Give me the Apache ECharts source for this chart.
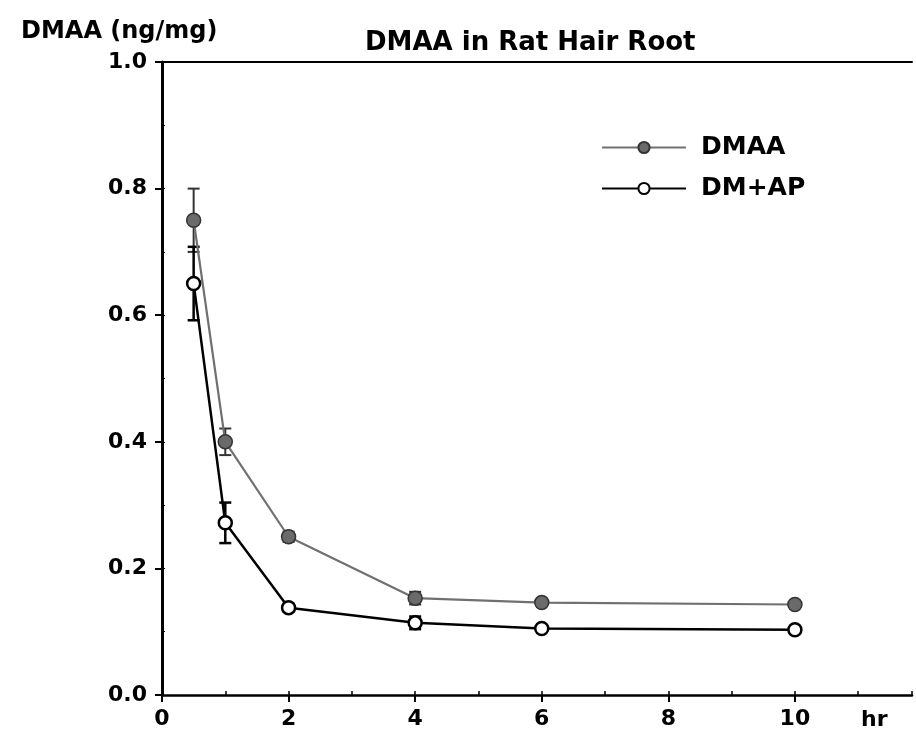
<!DOCTYPE html>
<html>
<head>
<meta charset="utf-8">
<script src="https://cdn.jsdelivr.net/npm/echarts@6/dist/echarts.min.js"></script>
<style>html,body{margin:0;padding:0;background:#fff;}#c{width:916px;height:738px;}</style>
</head>
<body>
<div id="c"></div>
<script>
// Data
const hours = [0.5, 1, 2, 4, 6, 10];
const dmaaValues = [0.75, 0.40, 0.25, 0.153, 0.146, 0.143];
const dmaaErrors = [0.05, 0.021, 0.008, 0.01, 0.005, 0.004];
const dmapValues = [0.65, 0.272, 0.138, 0.114, 0.105, 0.103];
const dmapErrors = [0.058, 0.032, 0.006, 0.01, 0.004, 0.004];
const seriesNames = ['DMAA', 'DM+AP'];
const chartTitle = 'DMAA in Rat Hair Root';
const yTitle = 'DMAA (ng/mg)';
const xTitle = 'hr';

const FONT = 'DejaVu Sans';
const chart = echarts.init(document.getElementById('c'));

function errData(vals, errs) {
  return hours.map((h, i) => [h, vals[i] - errs[i], vals[i] + errs[i]]);
}
function errRender(color, width) {
  return function (params, api) {
    const x = api.value(0);
    const lo = api.coord([x, api.value(1)]);
    const hi = api.coord([x, api.value(2)]);
    const cap = 6;
    const style = { stroke: color, lineWidth: width };
    return {
      type: 'group',
      children: [
        { type: 'line', shape: { x1: lo[0], y1: lo[1], x2: hi[0], y2: hi[1] }, style: style },
        { type: 'line', shape: { x1: lo[0] - cap, y1: lo[1], x2: lo[0] + cap, y2: lo[1] }, style: style },
        { type: 'line', shape: { x1: hi[0] - cap, y1: hi[1], x2: hi[0] + cap, y2: hi[1] }, style: style }
      ]
    };
  };
}

const labelStyle = { fontFamily: FONT, fontWeight: 'bold', fontSize: 22, color: '#000' };

chart.setOption({
  animation: false,
  backgroundColor: '#fff',
  title: [
    { text: chartTitle, left: 360, top: 25, textStyle: { fontFamily: FONT, fontWeight: 'bold', fontSize: 26, color: '#000' } },
    { text: yTitle, left: 16, top: 15, textStyle: { fontFamily: FONT, fontWeight: 'bold', fontSize: 24, color: '#000' } },
    { text: xTitle, left: 856, top: 704, textStyle: { fontFamily: FONT, fontWeight: 'bold', fontSize: 22, color: '#000' } }
  ],
  grid: { left: 162, right: 4, top: 62, bottom: 43, containLabel: false },
  legend: {
    orient: 'vertical', left: 596, top: 130, itemWidth: 84, itemHeight: 14, itemGap: 16,
    data: seriesNames,
    textStyle: { fontFamily: FONT, fontWeight: 'bold', fontSize: 25, color: '#000', padding: [0, 0, 0, 10] }
  },
  xAxis: [
    {
      type: 'value', min: 0, max: 11.85, interval: 2, position: 'bottom',
      axisLine: { show: true, lineStyle: { color: '#000', width: 2.5 } },
      axisTick: { show: true, length: 7, lineStyle: { color: '#000', width: 2 } },
      axisLabel: Object.assign({ margin: 13, showMaxLabel: false, formatter: v => (v <= 10 && v % 2 === 0) ? String(v) : '' }, labelStyle),
      splitLine: { show: false }
    },
    {
      type: 'value', min: 0, max: 11.85, interval: 1, position: 'bottom',
      axisLine: { show: false },
      axisTick: { show: true, inside: true, length: 4, lineStyle: { color: '#000', width: 1.5 } },
      axisLabel: { show: false }, splitLine: { show: false }
    },
    {
      type: 'value', min: 0, max: 11.85, position: 'top',
      axisLine: { show: true, lineStyle: { color: '#000', width: 2 } },
      axisTick: { show: false }, axisLabel: { show: false }, splitLine: { show: false }
    }
  ],
  yAxis: [
    {
      type: 'value', min: 0, max: 1, interval: 0.2, position: 'left',
      axisLine: { show: true, lineStyle: { color: '#000', width: 3 } },
      axisTick: { show: true, length: 7, lineStyle: { color: '#000', width: 2 } },
      axisLabel: Object.assign({ margin: 15, formatter: v => v.toFixed(1) }, labelStyle),
      splitLine: { show: false }
    },
    {
      type: 'value', min: 0, max: 1, interval: 0.1, position: 'left',
      axisLine: { show: false },
      axisTick: { show: true, inside: true, length: 3, lineStyle: { color: '#000', width: 1 } },
      axisLabel: { show: false }, splitLine: { show: false }
    }
  ],
  series: [
    {
      type: 'custom', name: 'errDMAA', xAxisIndex: 0, yAxisIndex: 0, silent: true,
      renderItem: errRender('#333', 2), data: errData(dmaaValues, dmaaErrors), z: 3
    },
    {
      type: 'custom', name: 'errDMAP', xAxisIndex: 0, yAxisIndex: 0, silent: true,
      renderItem: errRender('#000', 2.5), data: errData(dmapValues, dmapErrors), z: 3
    },
    {
      name: seriesNames[0], type: 'line', xAxisIndex: 0, yAxisIndex: 0,
      data: hours.map((h, i) => [h, dmaaValues[i]]),
      symbol: 'circle', symbolSize: 14,
      lineStyle: { color: '#707070', width: 2.2 },
      itemStyle: { color: '#6a6a6a', borderColor: '#333', borderWidth: 1.5 },
      z: 4
    },
    {
      name: seriesNames[1], type: 'line', xAxisIndex: 0, yAxisIndex: 0,
      data: hours.map((h, i) => [h, dmapValues[i]]),
      symbol: 'circle', symbolSize: 13,
      lineStyle: { color: '#000', width: 2.5 },
      itemStyle: { color: '#fff', borderColor: '#000', borderWidth: 2.5 },
      z: 5
    }
  ]
});
</script>
</body>
</html>
